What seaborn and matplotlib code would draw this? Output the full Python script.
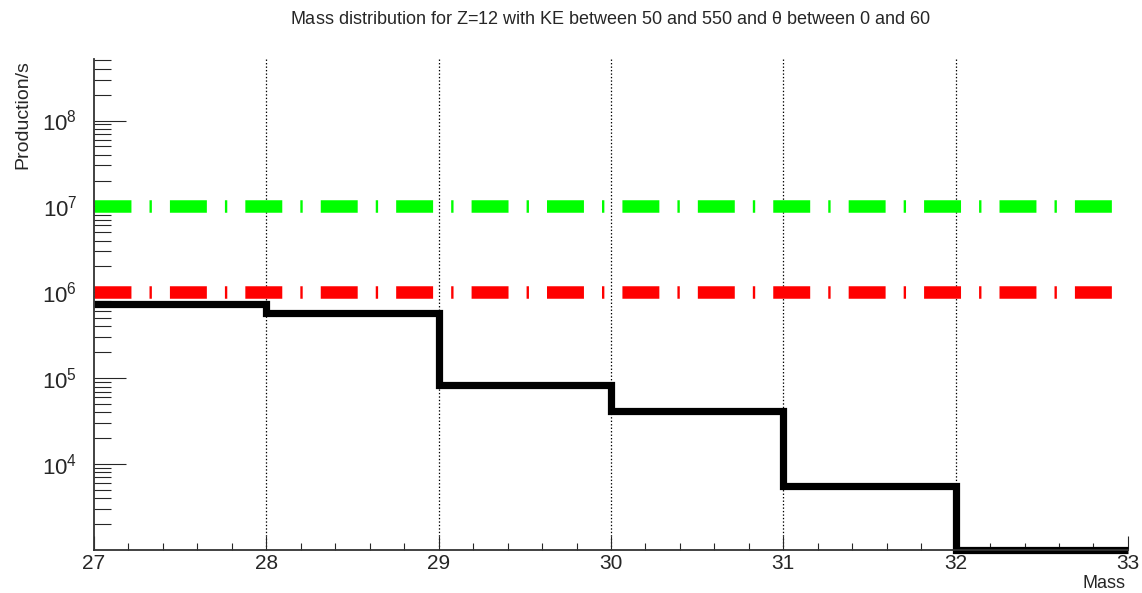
import matplotlib
matplotlib.use('Agg')
import matplotlib.pyplot as plt
import matplotlib.ticker as mticker
import numpy as np
import seaborn as sns

# mass bins and production rates
mass_edges = [27, 28, 29, 30, 31, 32, 33]
production = [7.4e5, 5.7e5, 8.4e4, 4.2e4, 5.6e3, 1.0e3]
limit_values = [1e7, 1e6]
limit_colors = ['#00ff00', '#ff0000']
major_y = [1e4, 1e5, 1e6, 1e7, 1e8]

sns.set_style('white')
plt.rcParams['font.family'] = ['Liberation Sans', 'DejaVu Sans']
plt.rcParams['mathtext.default'] = 'regular'
plt.rcParams['lines.scale_dashes'] = False

fig = plt.figure(figsize=(11.42, 5.93), dpi=100)
ax = fig.add_axes([0.0823, 0.0725, 0.9054, 0.8280])

# step histogram
step_y = production + [production[-1]]
sns.lineplot(x=mass_edges, y=step_y, drawstyle='steps-post', color='black',
             linewidth=5.2, ax=ax)
ax.lines[-1].set_clip_on(False)
ax.lines[-1].set_solid_joinstyle('miter')
ax.lines[-1].set_solid_capstyle('butt')

# limit lines
for val, col in zip(limit_values, limit_colors):
    sns.lineplot(x=[mass_edges[0], mass_edges[-1]], y=[val, val], color=col,
                 linewidth=9.0, ax=ax)
    ax.lines[-1].set_linestyle((0, (26.6, 13.0, 1.7, 13.0)))
    ax.lines[-1].set_dash_capstyle('butt')

ax.set_yscale('log')
ax.set_xlim(27, 33)
ax.set_ylim(1e3, 5.2e8)

# vertical dotted grid
for x in mass_edges[1:-1]:
    ax.axvline(x, color='black', linestyle=(0, (1, 1.5)), linewidth=0.9, zorder=0)

ax.set_xticks(mass_edges)
ax.set_xticklabels([str(m) for m in mass_edges])
ax.xaxis.set_minor_locator(mticker.MultipleLocator(0.2))
ax.set_yticks(major_y)
ax.set_yticklabels([r'$10^{%d}$' % int(np.log10(v)) for v in major_y])
ax.yaxis.set_minor_locator(mticker.LogLocator(base=10, subs=np.arange(2, 10)))
ax.yaxis.set_minor_formatter(mticker.NullFormatter())

ax.tick_params(axis='x', which='major', direction='in', length=10, width=0.8,
               labelsize=15, pad=3, top=False, bottom=True)
ax.tick_params(axis='x', which='minor', direction='in', length=5, width=0.8,
               top=False, bottom=True)
ax.tick_params(axis='y', which='major', direction='in', length=23, width=0.8,
               labelsize=16, pad=12, left=True, right=False)
ax.tick_params(axis='y', which='minor', direction='in', length=12.5, width=0.8,
               left=True, right=False)

for side in ['top', 'right']:
    ax.spines[side].set_visible(False)
for side in ['left', 'bottom']:
    ax.spines[side].set_linewidth(1.3)
    ax.spines[side].set_color('#333333')

ax.set_title('Mass distribution for Z=12 with KE between 50 and 550 and $\\theta$ between 0 and 60',
             fontsize=13, pad=25)
fig.text(1125 / 1142, 1 / 593, 'Mass', ha='right', va='bottom', fontsize=13)
fig.text(0.020, 1 - 60 / 593, 'Production/s', rotation=90, ha='center', va='top',
         fontsize=14)

fig.savefig('out.png', dpi=100)
